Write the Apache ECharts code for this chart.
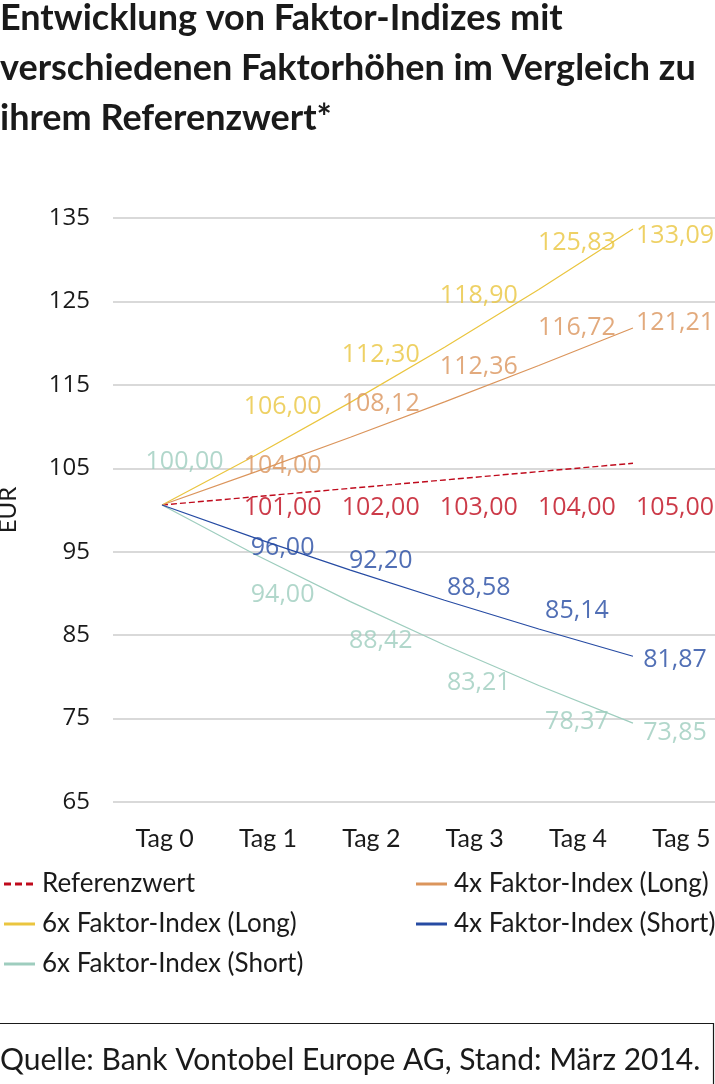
<!DOCTYPE html>
<html>
<head>
<meta charset="utf-8">
<script src="https://cdn.jsdelivr.net/npm/echarts@6/dist/echarts.min.js"></script>
<style>
  html, body { margin: 0; padding: 0; background: #ffffff; }
  #chart { width: 715px; height: 1084px; }
</style>
</head>
<body>
<div id="chart"></div>
<script>
// ---- Data ----
const categories = ['Tag 0', 'Tag 1', 'Tag 2', 'Tag 3', 'Tag 4', 'Tag 5'];
const referenz = [100.00, 101.00, 102.00, 103.00, 104.00, 105.00];
const long6 = [100.00, 106.00, 112.30, 118.90, 125.83, 133.09];
const long4 = [100.00, 104.00, 108.12, 112.36, 116.72, 121.21];
const short4 = [100.00, 96.00, 92.20, 88.58, 85.14, 81.87];
const short6 = [100.00, 94.00, 88.42, 83.21, 78.37, 73.85];
const yTicks = [65, 75, 85, 95, 105, 115, 125, 135];

// label anchor heights (in EUR axis units) where each value label sits; null = no label
const labelAtRef = [null, 100.2, 100.2, 100.2, 100.2, 100.2];
const labelAtLong6 = [null, 112.35, 118.58, 125.65, 132.06, 132.84];
const labelAtLong4 = [null, 105.27, 112.71, 117.2, 121.81, 122.47];
const labelAtShort4 = [null, 95.5, 93.93, 90.65, 87.89, 82.02];
const labelAtShort6 = [105.75, 89.81, 84.30, 79.32, 74.59, 73.33];

const names = ['Referenzwert', '6x Faktor-Index (Long)', '6x Faktor-Index (Short)', '4x Faktor-Index (Long)', '4x Faktor-Index (Short)'];
const colors = {
  ref: '#BF0A1C', long6: '#EAC53F', short6: '#9ECDBE', long4: '#DB955C', short4: '#264BA3'
};

const fmt = v => v.toFixed(2).replace('.', ',');

function lineSeries(name, vals, color, dashed) {
  return {
    name: name, type: 'line', xAxisIndex: 1, yAxisIndex: 1,
    data: vals.map((v, i) => [i, v]),
    symbol: 'none', smooth: false, z: 3,
    lineStyle: { color: color, width: dashed ? 1.4 : 1.2, type: dashed ? [6, 3] : 'solid' },
    itemStyle: { color: color }
  };
}
function labelSeries(key, vals, anchors, color) {
  const data = [];
  vals.forEach((v, i) => { if (anchors[i] !== null) data.push({ value: [i, anchors[i]], val: v }); });
  return {
    name: 'lbl-' + key, type: 'scatter', xAxisIndex: 2, yAxisIndex: 0,
    data: data, symbolSize: 0, silent: true, z: 4,
    label: {
      show: true, position: 'inside', color: color,
      fontFamily: 'Open Sans', fontSize: 25,
      formatter: p => fmt(p.data.val)
    }
  };
}

const solidIcon = 'path://M0,0h31v3h-31z';
const dashIcon = 'path://M0,0h7v3h-7zM11,0h7v3h-7zM22,0h7v3h-7zM31,0h0v3h0z';

const chart = echarts.init(document.getElementById('chart'), null, { renderer: 'canvas' });

const legendCommon = {
  orient: 'vertical', top: 866, itemWidth: 31, itemHeight: 3, itemGap: 14,
  textStyle: { fontFamily: 'Lato', fontSize: 26, color: '#1a1a1a', padding: [0, 0, 0, 2] },
  selectedMode: false
};

chart.setOption({
  animation: false,
  backgroundColor: '#ffffff',
  grid: { left: 113, right: -18, top: 218, bottom: 282, containLabel: false, outerBoundsMode: 'none' },
  xAxis: [
    {
      type: 'category', data: categories, boundaryGap: true,
      axisLine: { show: false }, axisTick: { show: false }, splitLine: { show: false },
      axisLabel: { fontFamily: 'Lato', fontSize: 25, color: '#1a1a1a', margin: 24 }
    },
    { type: 'value', min: -0.5202, max: 6.062, show: false },
    { type: 'value', min: -0.7289, max: 5.591, show: false }
  ],
  yAxis: [
    {
      type: 'value', min: yTicks[0], max: yTicks[yTicks.length - 1], interval: 10,
      name: 'EUR', nameLocation: 'middle', nameGap: 93,
      nameTextStyle: { fontFamily: 'Lato', fontSize: 24, color: '#1a1a1a' },
      axisLine: { show: false }, axisTick: { show: false },
      axisLabel: { fontFamily: 'Open Sans', fontSize: 24, color: '#1a1a1a', margin: 23 },
      splitLine: { show: true, lineStyle: { color: '#CCCCCC', width: 1.5 } }
    },
    { type: 'value', min: 64.4, max: 134.4, show: false }
  ],
  legend: [
    Object.assign({}, legendCommon, { left: -1, data: [
      { name: names[0], icon: dashIcon, itemStyle: { color: colors.ref } },
      { name: names[1], icon: solidIcon },
      { name: names[2], icon: solidIcon }
    ] }),
    Object.assign({}, legendCommon, { left: 411, data: [
      { name: names[3], icon: solidIcon },
      { name: names[4], icon: solidIcon }
    ] })
  ],
  graphic: [
    { type: 'text', x: 0, y: 18, style: { text: 'Entwicklung von Faktor-Indizes mit', fontFamily: 'Lato', fontWeight: 'bold', fontSize: 36, fill: '#1a1a1a', verticalAlign: 'middle' } },
    { type: 'text', x: 0, y: 68, style: { text: 'verschiedenen Faktorhöhen im Vergleich zu', fontFamily: 'Lato', fontWeight: 'bold', fontSize: 36, fill: '#1a1a1a', verticalAlign: 'middle' } },
    { type: 'text', x: 0, y: 118, style: { text: 'ihrem Referenzwert*', fontFamily: 'Lato', fontWeight: 'bold', fontSize: 36, fill: '#1a1a1a', verticalAlign: 'middle' } },
    { type: 'polyline', shape: { points: [[0, 1023.5], [713.5, 1023.5], [713.5, 1084]] }, style: { stroke: '#1a1a1a', lineWidth: 1.2, fill: null } },
    { type: 'text', x: 0, y: 1060, style: { text: 'Quelle: Bank Vontobel Europe AG, Stand: März 2014.', fontFamily: 'Lato', fontSize: 30, fill: '#1a1a1a', verticalAlign: 'middle' } }
  ],
  series: [
    lineSeries(names[0], referenz, colors.ref, true),
    lineSeries(names[1], long6, colors.long6, false),
    lineSeries(names[2], short6, colors.short6, false),
    lineSeries(names[3], long4, colors.long4, false),
    lineSeries(names[4], short4, colors.short4, false),
    labelSeries('ref', referenz, labelAtRef, colors.ref),
    labelSeries('long6', long6, labelAtLong6, colors.long6),
    labelSeries('short6', short6, labelAtShort6, colors.short6),
    labelSeries('long4', long4, labelAtLong4, colors.long4),
    labelSeries('short4', short4, labelAtShort4, colors.short4)
  ]
});
</script>
</body>
</html>
